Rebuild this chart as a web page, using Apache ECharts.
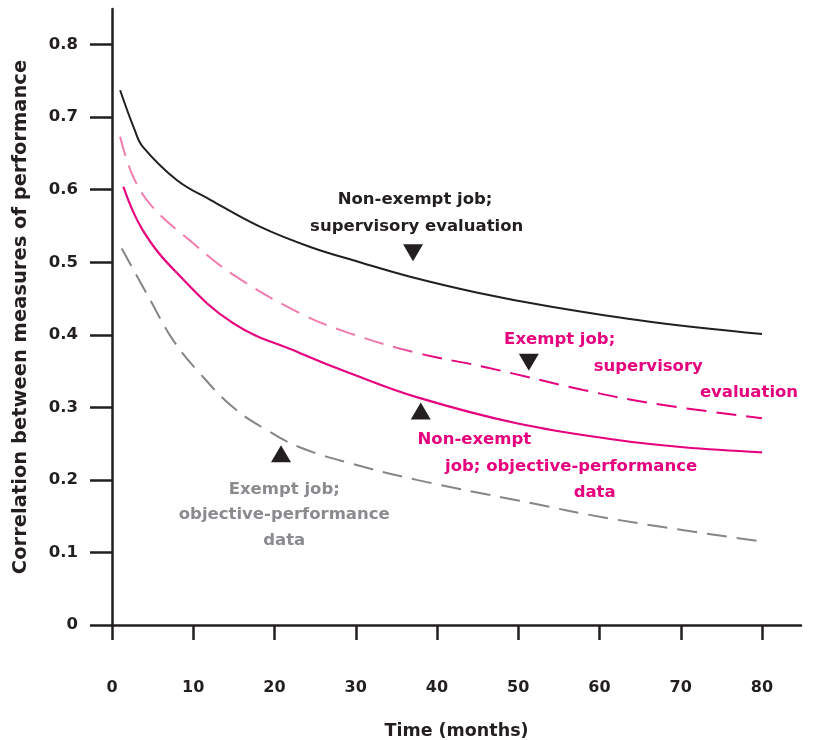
<!DOCTYPE html>
<html>
<head>
<meta charset="utf-8">
<script src="https://cdn.jsdelivr.net/npm/echarts@6/dist/echarts.min.js"></script>
<style>
html,body{margin:0;padding:0;background:#fff;}
#chart{width:816px;height:740px;}
</style>
</head>
<body>
<div id="chart"></div>
<script>
// ---- data (months, correlation) ----
const xTicks = [0, 10, 20, 30, 40, 50, 60, 70, 80];
const yTicks = [0, 0.1, 0.2, 0.3, 0.4, 0.5, 0.6, 0.7, 0.8];

const nonExemptSupervisory = [[1,0.737],[2.8,0.682],[3.8,0.659],[8,0.613],[12.1,0.586],[18.2,0.549],[24.4,0.521],[30.5,0.500],[36.7,0.480],[45,0.458],[53.9,0.439],[66.2,0.418],[80,0.401]];
const exemptSupervisory = [[1,0.673],[2.6,0.618],[5,0.576],[10,0.526],[14.9,0.483],[23.1,0.430],[29.3,0.402],[37.5,0.375],[45.7,0.356],[58,0.324],[66.2,0.306],[80,0.285]];
const nonExemptObjective = [[1.4,0.604],[3.8,0.544],[8,0.485],[14.9,0.416],[23.1,0.375],[29.3,0.347],[37.5,0.314],[49.8,0.278],[62.2,0.255],[70.3,0.245],[80,0.238]];
const exemptObjective = [[1.2,0.519],[4.7,0.448],[7.5,0.393],[10.8,0.347],[14.9,0.300],[19,0.269],[23.1,0.245],[29.3,0.223],[37.5,0.200],[49.8,0.172],[62.2,0.145],[80,0.115]];

const markersDown = [[37.05,0.513],[51.3,0.362]];
const markersUp = [[38.0,0.295],[20.8,0.236]];

const labelsBlack = [[37.3,0.586,'Non-exempt job;'],[37.5,0.549,'supervisory evaluation']];
const labelsMagenta = [[55.1,0.393,'Exempt job;'],[66.0,0.356,'supervisory'],[78.4,0.320,'evaluation'],
  [44.6,0.255,'Non-exempt'],[56.5,0.218,'job; objective-performance'],[59.4,0.182,'data']];
const labelsGray = [[21.2,0.187,'Exempt job;'],[21.2,0.152,'objective-performance'],[21.2,0.116,'data']];

const BLACK = '#231f20', MAGENTA = '#e6007e', PINK = '#f07cb0', GRAY = '#858689', GRAYTXT = '#8a8b8e';
const FONT = 'DejaVu Sans';

function textSeries(arr, color) {
  return {
    type: 'scatter', symbolSize: 0, silent: true, z: 5,
    itemStyle: { opacity: 1 },
    data: arr.map(d => ({ value: [d[0], d[1]], name: d[2] })),
    label: { show: true, position: 'inside', formatter: p => p.name, color: color, opacity: 1,
      fontFamily: FONT, fontWeight: 'bold', fontSize: 16.5 }
  };
}

const chart = echarts.init(document.getElementById('chart'), null, {renderer: 'canvas'});
chart.setOption({
  animation: false,
  backgroundColor: '#fff',
  grid: { left: 112, right: 15, top: 9, bottom: 115, containLabel: false, outerBoundsMode: 'none' },
  xAxis: {
    type: 'value', min: 0, max: 84.8, interval: 10,
    name: 'Time (months)', nameLocation: 'middle', nameGap: 97,
    nameTextStyle: { fontFamily: FONT, fontWeight: 'bold', fontSize: 17.5, color: BLACK },
    axisLine: { show: true, lineStyle: { color: BLACK, width: 2.5 } },
    axisTick: { show: true, inside: false, length: 15, lineStyle: { color: BLACK, width: 2.5 }, customValues: xTicks },
    axisLabel: { margin: 55, fontFamily: FONT, fontWeight: 'bold', fontSize: 16, color: BLACK, customValues: xTicks },
    splitLine: { show: false }
  },
  yAxis: {
    type: 'value', min: 0, max: 0.849, interval: 0.1,
    name: 'Correlation between measures of performance', nameLocation: 'middle', nameGap: 81, nameRotate: 90,
    nameTextStyle: { fontFamily: FONT, fontWeight: 'bold', fontSize: 19.5, color: BLACK },
    axisLine: { show: true, lineStyle: { color: BLACK, width: 2.5 } },
    axisTick: { show: true, inside: false, length: 22, lineStyle: { color: BLACK, width: 2.5 }, customValues: yTicks },
    axisLabel: { margin: 34, fontFamily: FONT, fontWeight: 'bold', fontSize: 16.5, color: BLACK, customValues: yTicks,
      formatter: v => (v === 0 ? '0' : v.toFixed(1)) },
    splitLine: { show: false }
  },
  series: [
    { name: 'Non-exempt job; supervisory evaluation', type: 'line', data: nonExemptSupervisory, showSymbol: false,
      smooth: 0.4, lineStyle: { color: BLACK, width: 2 } },
    { name: 'Exempt job; supervisory evaluation', type: 'line', data: exemptSupervisory, showSymbol: false,
      smooth: 0.4,
      lineStyle: { width: 2, type: [20, 10],
        color: new echarts.graphic.LinearGradient(0, 0, 1, 0, [
          { offset: 0, color: PINK }, { offset: 0.42, color: PINK }, { offset: 0.5, color: MAGENTA }, { offset: 1, color: MAGENTA }]) } },
    { name: 'Non-exempt job; objective-performance data', type: 'line', data: nonExemptObjective, showSymbol: false,
      smooth: 0.4, lineStyle: { color: MAGENTA, width: 2.2 } },
    { name: 'Exempt job; objective-performance data', type: 'line', data: exemptObjective, showSymbol: false,
      smooth: 0.4, lineStyle: { color: GRAY, width: 2, type: [20, 10] } },
    { type: 'scatter', data: markersDown, symbol: 'triangle', symbolRotate: 180, symbolSize: [20, 17],
      itemStyle: { color: BLACK, opacity: 1 }, silent: true, z: 6 },
    { type: 'scatter', data: markersUp, symbol: 'triangle', symbolSize: [20, 17],
      itemStyle: { color: BLACK, opacity: 1 }, silent: true, z: 6 },
    textSeries(labelsBlack, BLACK),
    textSeries(labelsMagenta, MAGENTA),
    textSeries(labelsGray, GRAYTXT)
  ]
});
</script>
</body>
</html>
